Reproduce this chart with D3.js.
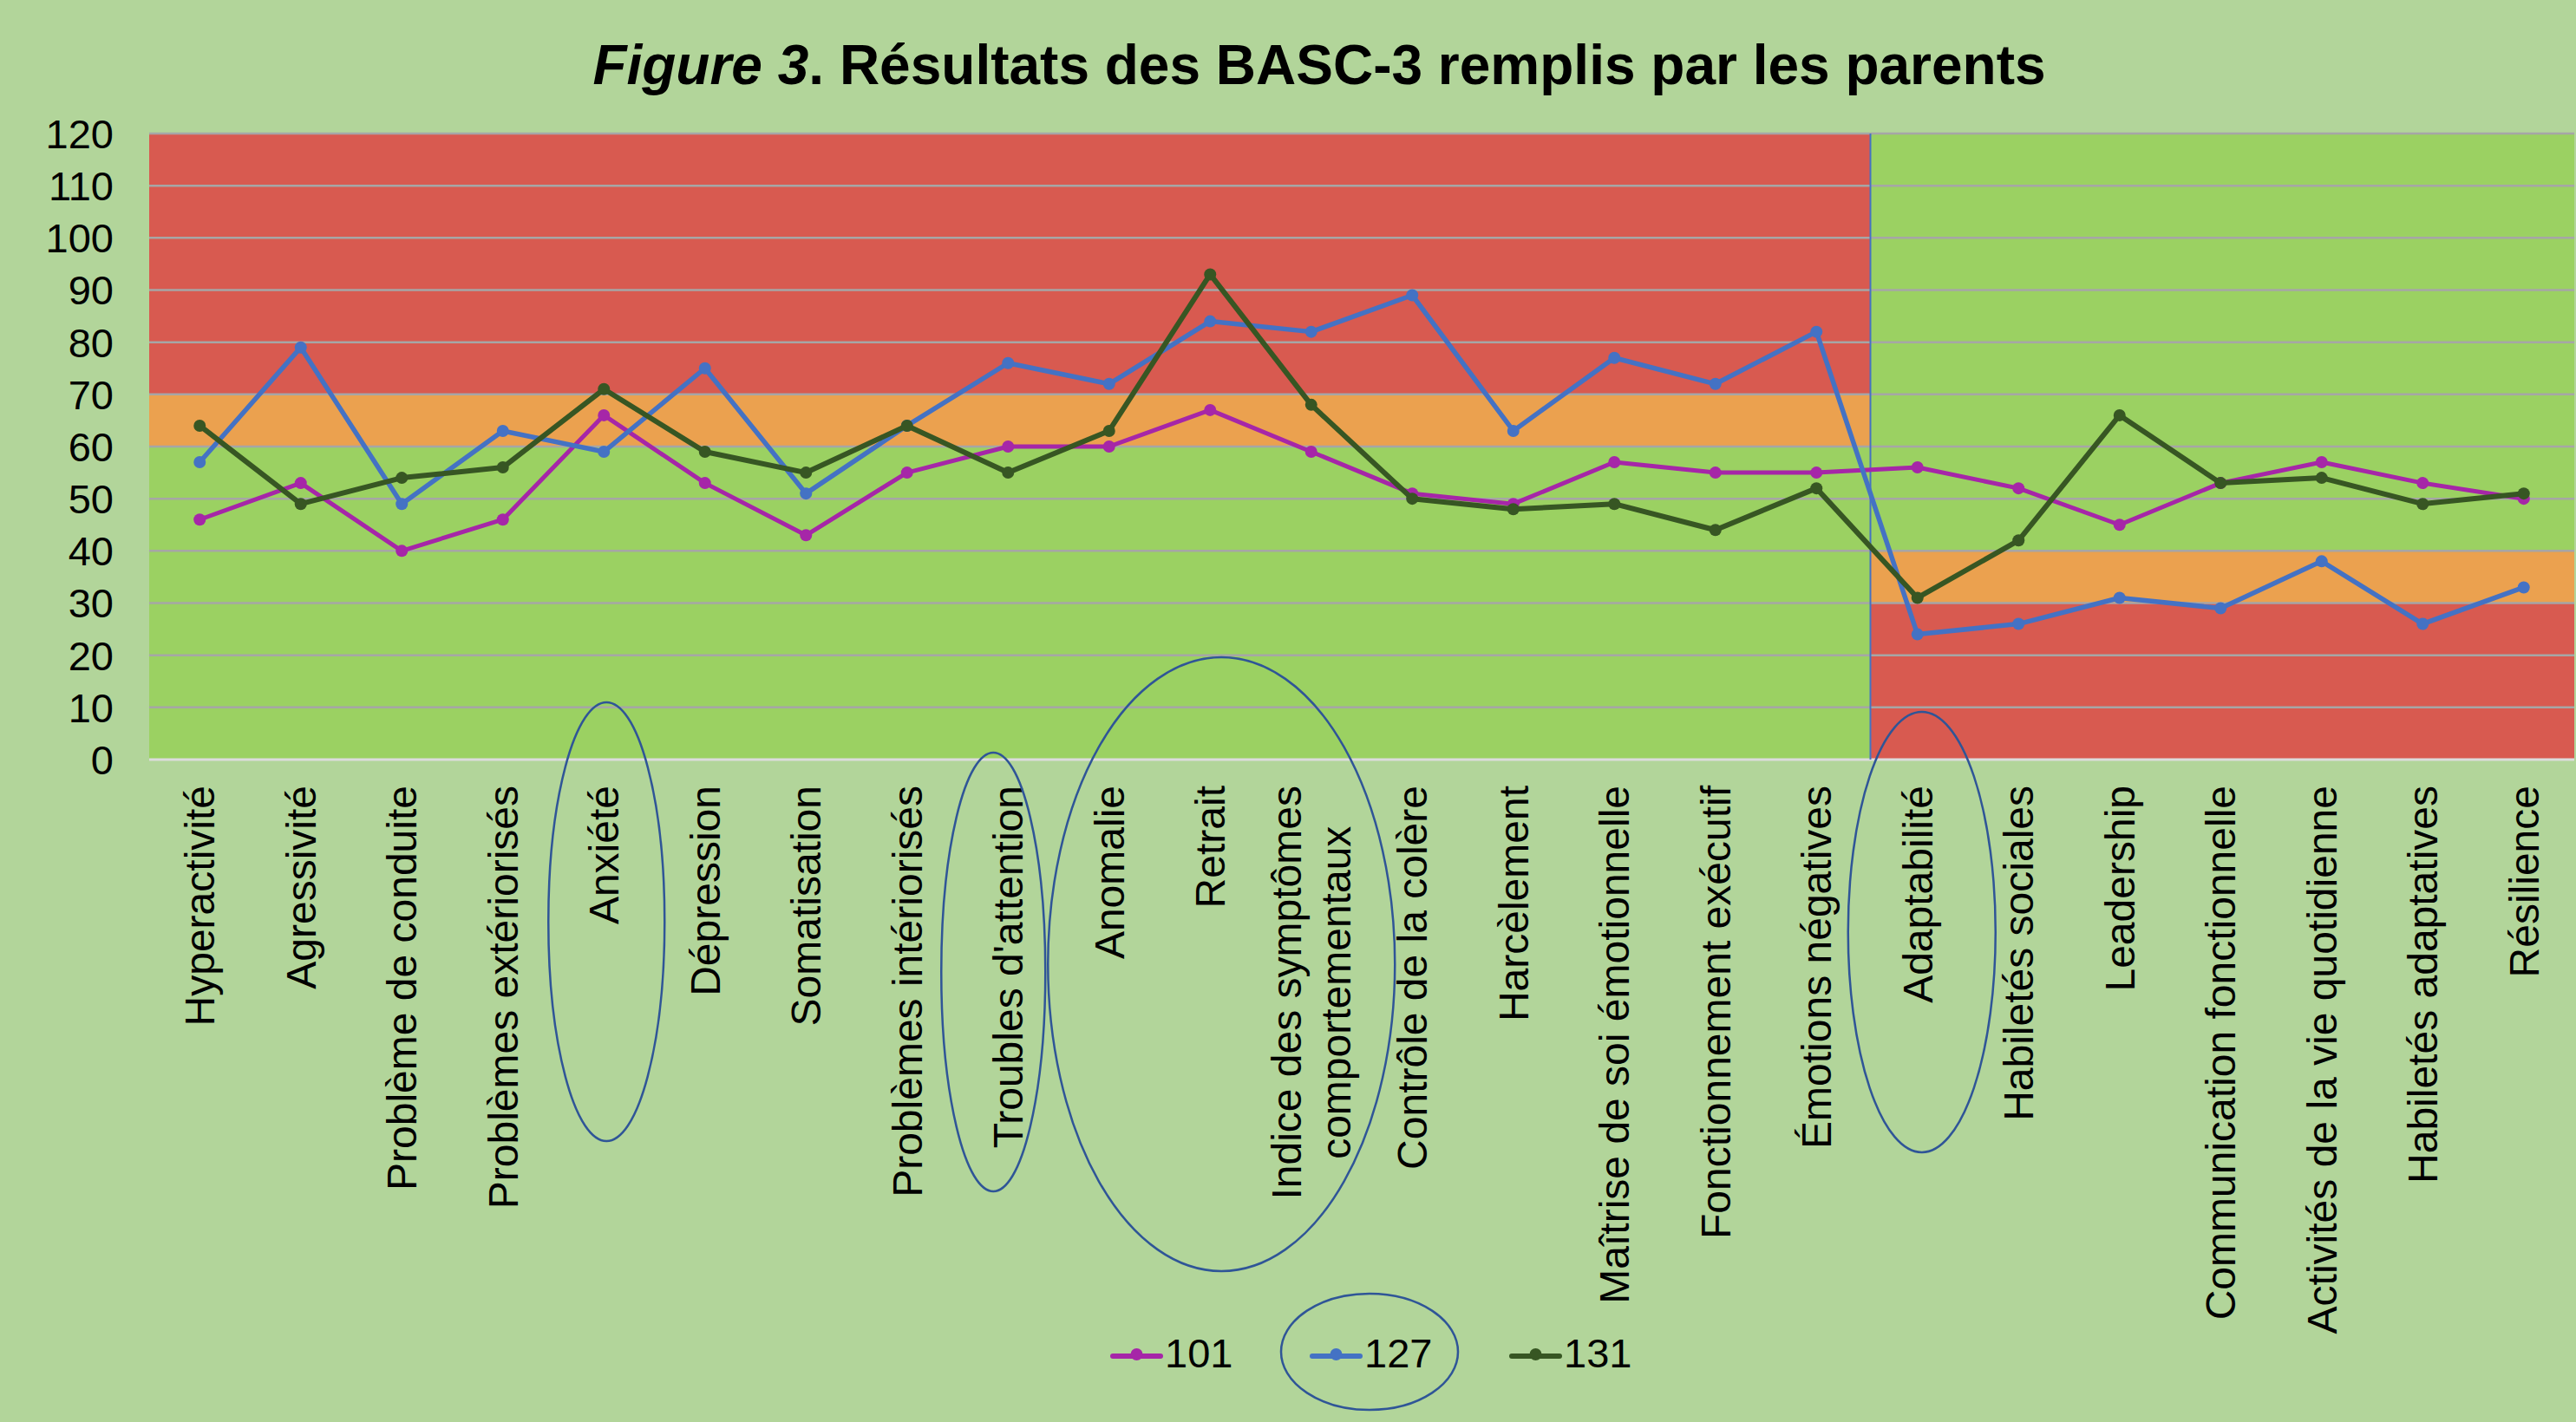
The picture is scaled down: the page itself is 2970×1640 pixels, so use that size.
<!DOCTYPE html>
<meta charset="utf-8">
<style>
    body { margin: 0; background: #b2d59a; }
    svg { display: block; font-family: "Liberation Sans", Arial, sans-serif; }
    .tick text { font-size: 47px; fill: #000; }
    .xlab text { font-size: 48px; fill: #000; }
    .legend text { font-size: 47px; fill: #000; }
</style>
<script src="https://cdn.jsdelivr.net/npm/d3@7"></script>
<svg width="2970" height="1640"></svg>
<script>
    // categories of the BASC-3 scales
    let categories = ["Hyperactivité", "Agressivité", "Problème de conduite", "Problèmes extériorisés",
        "Anxiété", "Dépression", "Somatisation", "Problèmes intériorisés", "Troubles d'attention",
        "Anomalie", "Retrait", "Indice des symptômes\ncomportementaux", "Contrôle de la colère",
        "Harcèlement", "Maîtrise de soi émotionnelle", "Fonctionnement exécutif", "Émotions négatives",
        "Adaptabilité", "Habiletés sociales", "Leadership", "Communication fonctionnelle",
        "Activités de la vie quotidienne", "Habiletés adaptatives", "Résilience"];

    let seriesNames = ["101", "127", "131"];
    let s101 = [46, 53, 40, 46, 66, 53, 43, 55, 60, 60, 67, 59, 51, 49, 57, 55, 55, 56, 52, 45, 53, 57, 53, 50];
    let s127 = [57, 79, 49, 63, 59, 75, 51, 64, 76, 72, 84, 82, 89, 63, 77, 72, 82, 24, 26, 31, 29, 38, 26, 33];
    let s131 = [64, 49, 54, 56, 71, 59, 55, 64, 55, 63, 93, 68, 50, 48, 49, 44, 52, 31, 42, 66, 53, 54, 49, 51];

    // zone limits: clinical scales (left) and adaptive scales (right)
    let firstAdaptive = "Adaptabilité";
    let leftZones = [0, 60, 70, 120];
    let rightZones = [0, 30, 40, 120];
    let yMax = 120;

    // circled items
    let circled = ["Anxiété", "Troubles d'attention", "Retrait", "Adaptabilité"];

    let svg = d3.select("svg");

    let zoneGreen = "#9bd162", zoneOrange = "#eba14f", zoneRed = "#d85a50";
    let leftColors = [zoneGreen, zoneOrange, zoneRed];
    let rightColors = [zoneRed, zoneOrange, zoneGreen];
    let lineColors = ["#a626a8", "#4472c4", "#375623"];
    let lineWidths = [5, 5.5, 6];
    let ringColor = "#2f5597";

    let x = d3.scaleBand().domain(categories).range([172, 2968]);
    let y = d3.scaleLinear().domain([0, yMax]).range([876, 154]);
    let bw = x.bandwidth();
    let split = x(firstAdaptive) + 4;

    // background zones
    let zones = [];
    for (let i = 0; i < 3; i++) {
        zones.push({x0: x.range()[0], x1: split, y0: leftZones[i], y1: leftZones[i + 1], c: leftColors[i]});
        zones.push({x0: split, x1: x.range()[1], y0: rightZones[i], y1: rightZones[i + 1], c: rightColors[i]});
    }
    svg.append("g").selectAll("rect").data(zones).enter().append("rect")
        .attr("x", function(d) { return d.x0; })
        .attr("width", function(d) { return d.x1 - d.x0; })
        .attr("y", function(d) { return y(d.y1); })
        .attr("height", function(d) { return y(d.y0) - y(d.y1); })
        .attr("fill", function(d) { return d.c; });

    // grid
    let ticks = d3.range(0, yMax + 1, 10);
    svg.append("g").selectAll("line").data(ticks).enter().append("line")
        .attr("x1", x.range()[0]).attr("x2", x.range()[1])
        .attr("y1", function(d) { return y(d); }).attr("y2", function(d) { return y(d); })
        .attr("stroke", function(d) { return d === 0 ? "#dcdcdc" : "#a6a6a6"; })
        .attr("stroke-width", function(d) { return d === 0 ? 3 : 2.5; });

    svg.append("line")
        .attr("x1", split).attr("x2", split)
        .attr("y1", y(yMax)).attr("y2", y(0))
        .attr("stroke", "#4472c4").attr("stroke-width", 2);

    // y axis
    let yAxis = svg.append("g")
        .attr("transform", "translate(" + x.range()[0] + ",0)")
        .call(d3.axisLeft(y).tickValues(ticks).tickSize(0).tickPadding(41));
    yAxis.select(".domain").remove();
    yAxis.selectAll("text").attr("font-family", null).attr("font-size", null).attr("dy", "0.35em");

    // x labels
    let xlab = svg.append("g").attr("class", "xlab").selectAll("g").data(categories).enter().append("g")
        .attr("transform", function(d) { return "translate(" + (x(d) + bw / 2) + ",906) rotate(-90)"; });
    xlab.each(function(d) {
        let lines = d.split("\n");
        let t = d3.select(this).append("text");
        lines.forEach(function(l, i) {
            t.append("tspan").text(l)
                .attr("y", 0)
                .attr("dy", ((i - (lines.length - 1) / 2) * 1.17 + 0.35) + "em");
        });
        if (lines.length === 1) {
            t.attr("text-anchor", "end");
        } else {
            let maxLen = 0;
            t.selectAll("tspan").each(function() { maxLen = Math.max(maxLen, this.getComputedTextLength()); });
            t.attr("text-anchor", "middle").selectAll("tspan").attr("x", -maxLen / 2);
        }
    });

    // series
    let series = [s101, s127, s131].map(function(v, i) {
        return {name: seriesNames[i], color: lineColors[i], width: lineWidths[i],
            values: v.map(function(val, j) { return {cat: categories[j], v: val}; })};
    });
    let line = d3.line()
        .x(function(d) { return x(d.cat) + bw / 2; })
        .y(function(d) { return y(d.v); });
    let sg = svg.append("g").selectAll("g").data(series).enter().append("g");
    sg.append("path")
        .attr("d", function(d) { return line(d.values); })
        .attr("fill", "none")
        .attr("stroke", function(d) { return d.color; })
        .attr("stroke-width", function(d) { return d.width; })
        .attr("stroke-linejoin", "round");
    sg.selectAll("circle").data(function(d) { return d.values.map(function(p) { return {p: p, c: d.color}; }); })
        .enter().append("circle")
        .attr("cx", function(d) { return x(d.p.cat) + bw / 2; })
        .attr("cy", function(d) { return y(d.p.v); })
        .attr("r", 7)
        .attr("fill", function(d) { return d.c; });

    // title
    let title = svg.append("text")
        .attr("x", 1521).attr("y", 97)
        .attr("text-anchor", "middle")
        .attr("font-size", 64).attr("font-weight", "bold");
    title.append("tspan").attr("font-style", "italic").text("Figure 3");
    title.append("tspan").text(". Résultats des BASC-3 remplis par les parents");

    // legend
    let legendStart = 1283, legendStep = 230, legendY = 1564;
    let lg = svg.append("g").attr("class", "legend").selectAll("g").data(series).enter().append("g")
        .attr("transform", function(d, i) { return "translate(" + (legendStart + i * legendStep) + "," + legendY + ")"; });
    lg.append("line").attr("x1", 0).attr("x2", 55)
        .attr("stroke", function(d) { return d.color; }).attr("stroke-width", 6)
        .attr("stroke-linecap", "round");
    lg.append("circle").attr("cx", 27.5).attr("cy", -2).attr("r", 7).attr("fill", function(d) { return d.color; });
    lg.append("text").attr("x", 60).attr("dy", "0.28em").text(function(d) { return d.name; });

    // hand-drawn rings
    let rings = [
        {cat: circled[0], dx: 3, cy: 1063, rx: 67, ry: 253},
        {cat: circled[1], dx: -17, cy: 1121, rx: 60, ry: 253},
        {cat: circled[2], dx: 13, cy: 1112, rx: 200, ry: 354},
        {cat: circled[3], dx: 5, cy: 1075, rx: 85, ry: 254}
    ];
    let rg = svg.append("g");
    rg.selectAll("ellipse").data(rings).enter().append("ellipse")
        .attr("cx", function(d) { return x(d.cat) + bw / 2 + d.dx; })
        .attr("cy", function(d) { return d.cy; })
        .attr("rx", function(d) { return d.rx; })
        .attr("ry", function(d) { return d.ry; })
        .attr("fill", "none").attr("stroke", ringColor).attr("stroke-width", 2.5);
    rg.append("ellipse")
        .attr("cx", legendStart + legendStep + 66).attr("cy", legendY - 5)
        .attr("rx", 102).attr("ry", 67)
        .attr("fill", "none").attr("stroke", ringColor).attr("stroke-width", 2.5);
</script>
